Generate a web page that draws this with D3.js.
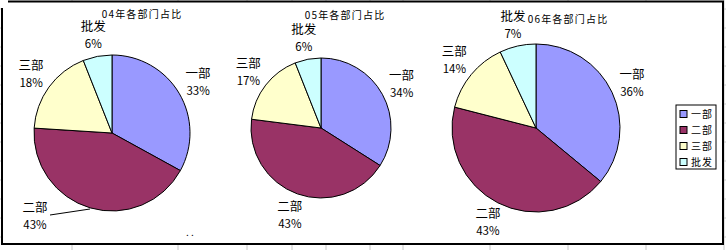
<!DOCTYPE html>
<html>
<head>
<meta charset="utf-8">
<script src="https://cdn.jsdelivr.net/npm/d3@7"></script>
<style>
  body { margin: 0; background: #fff; }
  text { font-family: "Noto Sans CJK SC", "DejaVu Sans", sans-serif; fill: #000; }
</style>
</head>
<body>
<div id="chart"></div>
<script>
// Data
const categories = ["一部", "二部", "三部", "批发"];
const years = ["04", "05", "06"];
const shares04 = [33, 43, 18, 6];
const shares05 = [34, 43, 17, 6];
const shares06 = [36, 43, 14, 7];
const colors = ["#9999FF", "#993366", "#FFFFCC", "#CCFFFF"];

// Layout of the three pies (center, radius, title place)
const pies = [
    { year: years[0], values: shares04, cx: 112, cy: 133, r: 78, tx: 142, ty: 18 },
    { year: years[1], values: shares05, cx: 321, cy: 128, r: 70, tx: 345, ty: 19 },
    { year: years[2], values: shares06, cx: 536, cy: 128, r: 84, tx: 568, ty: 23 }
];

const width = 726, height = 250;

const svg = d3.select("#chart")
    .append("svg")
    .attr("width", width)
    .attr("height", height);

// spreadsheet grid behind the chart
const colX = [72, 178, 247, 292, 326, 370, 403, 490, 568, 646, 724];
const rowY = d3.range(9, 250, 19);
svg.selectAll(".gx").data(colX).enter().append("line")
    .attr("x1", d => d).attr("x2", d => d).attr("y1", 0).attr("y2", height)
    .attr("stroke", "#c8c8c8").attr("stroke-width", 1);
svg.selectAll(".gy").data(rowY).enter().append("line")
    .attr("x1", 0).attr("x2", width).attr("y1", d => d).attr("y2", d => d)
    .attr("stroke", "#c8c8c8").attr("stroke-width", 1);

// chart area
svg.append("rect")
    .attr("x", 2).attr("y", 1).attr("width", 721).attr("height", 243)
    .attr("fill", "#fff");
svg.append("path")
    .attr("d", "M8,1.5H723V244H2V8")
    .attr("fill", "none").attr("stroke", "#000").attr("stroke-width", 2);

const pie = d3.pie().sort(null).value(d => d);

pies.forEach(p => {
    const g = svg.append("g").attr("transform", `translate(${p.cx},${p.cy})`);
    const arc = d3.arc().innerRadius(0).outerRadius(p.r);
    const labelArc = d3.arc().innerRadius(p.r + 22).outerRadius(p.r + 22);
    const arcs = pie(p.values);

    g.selectAll("path")
        .data(arcs)
        .enter()
        .append("path")
        .attr("d", arc)
        .attr("fill", (d, i) => colors[i])
        .attr("stroke", "#000")
        .attr("stroke-width", 1);

    const lab = g.selectAll(".lab")
        .data(arcs)
        .enter()
        .append("g")
        .attr("transform", (d, i) => {
            let [x, y] = labelArc.centroid(d);
            // the 04 二部 label was dragged away and has a leader line
            if (p.year === "04" && i === 1) { x = -77; y = 83; }
            return `translate(${x},${y})`;
        });
    lab.append("text")
        .attr("text-anchor", "middle")
        .attr("y", -4)
        .style("font-size", "12.5px")
        .text((d, i) => categories[i]);
    lab.append("text")
        .attr("text-anchor", "middle")
        .attr("y", 13)
        .style("font-size", "11.5px")
        .text(d => d.data + "%");

    if (p.year === "04") {
        g.append("line")
            .attr("x1", -62).attr("y1", 82)
            .attr("x2", -22).attr("y2", 76)
            .attr("stroke", "#000").attr("stroke-width", 1);
    }

    svg.append("text")
        .attr("x", p.tx).attr("y", p.ty)
        .attr("text-anchor", "middle")
        .style("font-size", "10px")
        .style("letter-spacing", "1.2px")
        .text(p.year + "年各部门占比");
});

// legend
const legend = svg.append("g").attr("transform", "translate(676,105)");
legend.append("rect")
    .attr("x", 0).attr("y", 0).attr("width", 40).attr("height", 64)
    .attr("fill", "#fff").attr("stroke", "#000").attr("stroke-width", 1);
const item = legend.selectAll(".item")
    .data(categories)
    .enter()
    .append("g")
    .attr("transform", (d, i) => `translate(4,${9 + i * 16})`);
item.append("rect")
    .attr("x", 0).attr("y", -3.5).attr("width", 7).attr("height", 7)
    .attr("fill", (d, i) => colors[i])
    .attr("stroke", "#000").attr("stroke-width", 1);
item.append("text")
    .attr("x", 11).attr("y", 4)
    .style("font-size", "10px")
    .style("letter-spacing", "1px")
    .text(d => d);

// stray dots near the bottom edge
svg.append("text")
    .attr("x", 186).attr("y", 236)
    .style("font-size", "10px")
    .text(". .");
</script>
</body>
</html>
